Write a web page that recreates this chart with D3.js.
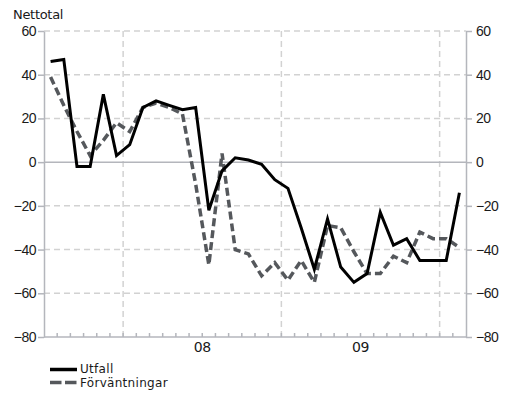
<!DOCTYPE html>
<html>
<head>
<meta charset="utf-8">
<style>
    body { margin: 0; background: #fff; }
    svg { font-family: "DejaVu Sans", sans-serif; }
    .axis .domain { stroke: #b4b6bc; stroke-width: 1.5px; }
    .axis .tick line { stroke: #b4b6bc; stroke-width: 1.5px; }
    .axis .tick text { font-size: 14px; fill: #1a1a1a; letter-spacing: -0.5px; }
</style>
</head>
<body>
<svg width="506" height="397"></svg>

<script src="https://d3js.org/d3.v7.min.js"></script>
<script>
    // months, Jul 2007 - Feb 2010
    let months = [
        "2007-07", "2007-08", "2007-09", "2007-10", "2007-11", "2007-12",
        "2008-01", "2008-02", "2008-03", "2008-04", "2008-05", "2008-06",
        "2008-07", "2008-08", "2008-09", "2008-10", "2008-11", "2008-12",
        "2009-01", "2009-02", "2009-03", "2009-04", "2009-05", "2009-06",
        "2009-07", "2009-08", "2009-09", "2009-10", "2009-11", "2009-12",
        "2010-01", "2010-02"
    ]

    let utfall = [46, 47, -2, -2, 31, 3, 8, 25, 28, 26, 24, 25,
        -22, -4, 2, 1, -1, -8, -12, -30, -49, -26, -48, -55,
        -51, -23, -38, -35, -45, -45, -45, -14]

    let forvantningar = [39, 26, 14, 3, 10, 18, 14, 25, 27, 25, 22, -10,
        -47, 4, -40, -42, -52, -46, -54, -45, -55, -29, -30, -41,
        -51, -51, -43, -46, -32, -35, -35, -39]

    let yTicks = [-80, -60, -40, -20, 0, 20, 40, 60]
    let yearLabels = [{ year: "2008", label: "08" }, { year: "2009", label: "09" }]
    let gridYears = ["2008", "2009", "2010"]

    let margin = { top: 31, right: 40, bottom: 60, left: 44 }
    let width = 506, height = 397

    let svg = d3.select("svg")

    let x = d3.scaleBand()
        .domain(months)
        .range([margin.left, width - margin.right])

    let y = d3.scaleLinear()
        .domain([-80, 60])
        .range([height - margin.bottom, margin.top])

    let x0 = margin.left, x1 = width - margin.right
    let yb = height - margin.bottom

    // horizontal dashed gridlines
    svg.append("g")
        .selectAll("line")
        .data(yTicks.filter(d => d != 0 && d != -80))
        .join("line")
        .attr("x1", x0).attr("x2", x1)
        .attr("y1", d => y(d)).attr("y2", d => y(d))
        .attr("stroke", "#d2d2d2")
        .attr("stroke-width", 1.5)
        .attr("stroke-dasharray", "6,4")

    // vertical dashed gridlines at year starts
    svg.append("g")
        .selectAll("line")
        .data(gridYears)
        .join("line")
        .attr("x1", d => x(d + "-01")).attr("x2", d => x(d + "-01"))
        .attr("y1", margin.top).attr("y2", yb)
        .attr("stroke", "#d2d2d2")
        .attr("stroke-width", 1.5)
        .attr("stroke-dasharray", "6,4")

    // zero line
    svg.append("line")
        .attr("x1", x0).attr("x2", x1)
        .attr("y1", y(0)).attr("y2", y(0))
        .attr("stroke", "#b4b6bc")
        .attr("stroke-width", 1.5)

    // monthly tick marks on the bottom axis
    svg.append("g")
        .selectAll("line")
        .data(months.slice(1))
        .join("line")
        .attr("x1", d => x(d)).attr("x2", d => x(d))
        .attr("y1", yb - 4).attr("y2", yb)
        .attr("stroke", "#b4b6bc")
        .attr("stroke-width", 1.5)

    svg.append("line")
        .attr("x1", x0).attr("x2", x1)
        .attr("y1", yb).attr("y2", yb)
        .attr("stroke", "#b4b6bc")
        .attr("stroke-width", 1.5)

    // y axes, both sides
    svg.append("g")
        .attr("class", "axis")
        .attr("transform", `translate(${x0},0)`)
        .call(d3.axisLeft(y).tickValues(yTicks).tickSize(6).tickPadding(2).tickSizeOuter(0))

    svg.append("g")
        .attr("class", "axis")
        .attr("transform", `translate(${x1},0)`)
        .call(d3.axisRight(y).tickValues(yTicks).tickSize(6).tickPadding(4).tickSizeOuter(0))

    // year labels centred under each full year
    svg.append("g")
        .selectAll("text")
        .data(yearLabels)
        .join("text")
        .attr("x", d => (x(d.year + "-01") + x(d.year + "-12") + x.bandwidth()) / 2)
        .attr("y", yb + 15)
        .attr("text-anchor", "middle")
        .style("font-size", "14px")
        .style("letter-spacing", "-0.5px")
        .style("fill", "#1a1a1a")
        .text(d => d.label)

    svg.append("text")
        .attr("x", 13)
        .attr("y", 18.5)
        .style("font-size", "13px")
        .style("letter-spacing", "-0.3px")
        .style("fill", "#1a1a1a")
        .text("Nettotal")

    let line = d3.line()
        .x((d, i) => x(months[i]) + x.bandwidth() / 2)
        .y(d => y(d))

    svg.append("path")
        .datum(forvantningar)
        .attr("fill", "none")
        .attr("stroke", "#55585c")
        .attr("stroke-width", 3.5)
        .attr("stroke-dasharray", "8,4")
        .attr("d", line)

    svg.append("path")
        .datum(utfall)
        .attr("fill", "none")
        .attr("stroke", "#000")
        .attr("stroke-width", 3)
        .attr("d", line)

    // legend
    let legend = svg.append("g")
    legend.append("line")
        .attr("x1", 50).attr("x2", 77)
        .attr("y1", 369.5).attr("y2", 369.5)
        .attr("stroke", "#000").attr("stroke-width", 3.5)
    legend.append("line")
        .attr("x1", 50).attr("x2", 77)
        .attr("y1", 382.5).attr("y2", 382.5)
        .attr("stroke", "#55585c").attr("stroke-width", 3.5)
        .attr("stroke-dasharray", "11.5,3.5")
    legend.append("text")
        .attr("x", 80).attr("y", 373)
        .style("font-size", "12px").style("letter-spacing", "0.3px").style("fill", "#1a1a1a")
        .text("Utfall")
    legend.append("text")
        .attr("x", 80).attr("y", 387)
        .style("font-size", "12px").style("letter-spacing", "0.3px").style("fill", "#1a1a1a")
        .text("Förväntningar")
</script>
</body>
</html>
